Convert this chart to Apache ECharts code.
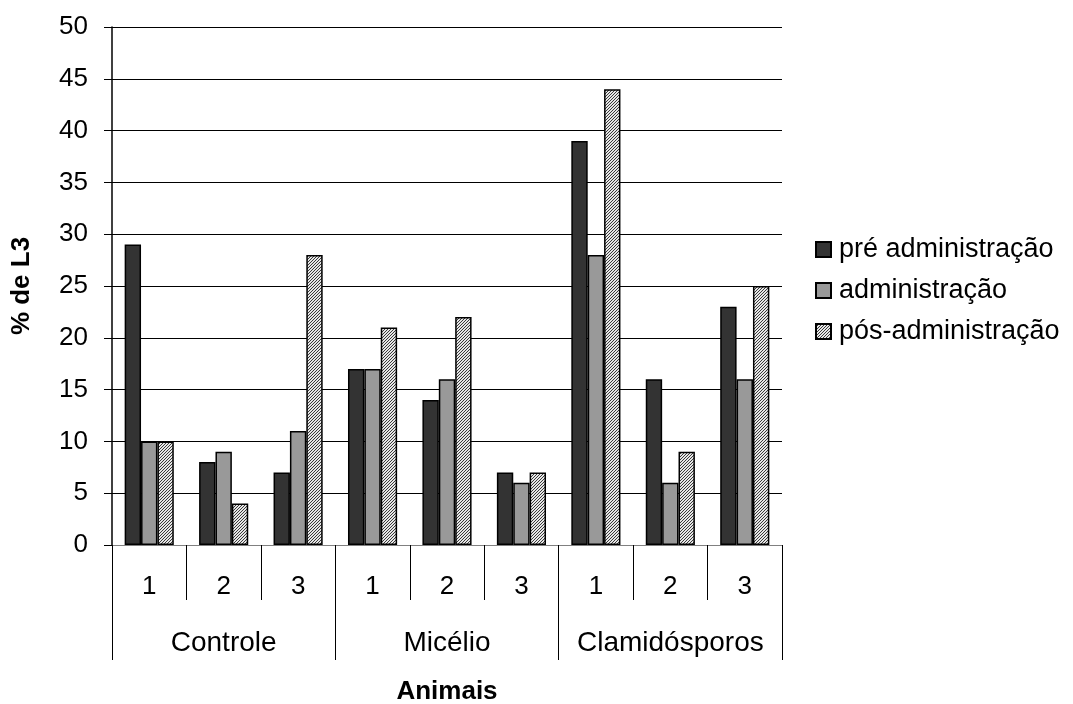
<!DOCTYPE html>
<html>
<head>
<meta charset="utf-8">
<script src="https://cdn.jsdelivr.net/npm/echarts@6/dist/echarts.min.js"></script>
<style>html,body{margin:0;padding:0;background:#fff}#c{width:1073px;height:704px}</style>
</head>
<body>
<div id="c"></div>
<script>
var animals = ['1','2','3','1','2','3','1','2','3'];
var groups = ['Controle','Micélio','Clamidósporos'];
var seriesNames = ['pré administração','administração','pós-administração'];
var pre = [29, 8, 7, 17, 14, 7, 39, 16, 23];
var adm = [10, 9, 11, 17, 16, 6, 28, 6, 16];
var pos = [10, 4, 28, 21, 22, 7, 44, 9, 25];
var yTicks = {min: 0, max: 50, interval: 5};

function hatch() {
  var c = document.createElement('canvas');
  c.width = 3; c.height = 3;
  var g = c.getContext('2d');
  g.fillStyle = '#e6e6e6';
  g.fillRect(0, 0, 3, 3);
  g.fillStyle = '#3a3a3a';
  g.fillRect(2, 0, 1, 1);
  g.fillRect(1, 1, 1, 1);
  g.fillRect(0, 2, 1, 1);
  return c;
}

var FONT = 'Liberation Sans, Arial, sans-serif';
var chart = echarts.init(document.getElementById('c'), null, {renderer: 'canvas'});
var border = {borderColor: '#000', borderWidth: 1.5};
chart.setOption({
  animation: false,
  textStyle: {fontFamily: FONT},
  grid: {left: 112, right: 291, top: 27, bottom: 159, containLabel: false, outerBoundsMode: 'none'},
  legend: {
    orient: 'vertical', left: 810, top: 231,
    itemWidth: 15, itemHeight: 15, itemGap: 14,
    icon: 'rect',
    textStyle: {fontSize: 27, color: '#000', fontFamily: FONT, padding: [0, 0, 0, 3]},
    data: seriesNames
  },
  xAxis: [{
    type: 'category', data: animals, position: 'bottom',
    axisLine: {show: true, lineStyle: {color: '#808080', width: 1}},
    axisTick: {show: true, length: 55, interval: 0, lineStyle: {color: '#000', width: 1}},
    axisLabel: {interval: 0, fontSize: 26, color: '#000', margin: 29, fontFamily: FONT},
    name: 'Animais', nameLocation: 'middle', nameGap: 134,
    nameTextStyle: {fontSize: 26, fontWeight: 'bold', color: '#000', fontFamily: FONT}
  }, {
    type: 'category', data: groups, position: 'bottom',
    axisLine: {show: false},
    axisTick: {show: true, length: 115, interval: 0, lineStyle: {color: '#000', width: 1}},
    axisLabel: {interval: 0, fontSize: 28, color: '#000', margin: 84, fontFamily: FONT}
  }],
  yAxis: {
    type: 'value', min: yTicks.min, max: yTicks.max, interval: yTicks.interval,
    axisLine: {show: true, lineStyle: {color: '#000', width: 1.5}},
    axisTick: {show: true, length: 8, lineStyle: {color: '#000'}},
    axisLabel: {fontSize: 26, color: '#000', margin: 24, fontFamily: FONT},
    splitLine: {show: true, lineStyle: {color: '#000', width: 1}},
    name: '% de L3', nameLocation: 'middle', nameGap: 77, nameRotate: 90,
    nameTextStyle: {fontSize: 26, fontWeight: 'bold', color: '#000', fontFamily: FONT}
  },
  series: [
    {name: seriesNames[0], type: 'bar', data: pre, barGap: '0%', barCategoryGap: '34%',
     itemStyle: Object.assign({color: '#333333'}, border)},
    {name: seriesNames[1], type: 'bar', data: adm,
     itemStyle: Object.assign({color: '#999999'}, border)},
    {name: seriesNames[2], type: 'bar', data: pos,
     itemStyle: Object.assign({color: {image: hatch(), repeat: 'repeat'}}, border)}
  ]
});
</script>
</body>
</html>
